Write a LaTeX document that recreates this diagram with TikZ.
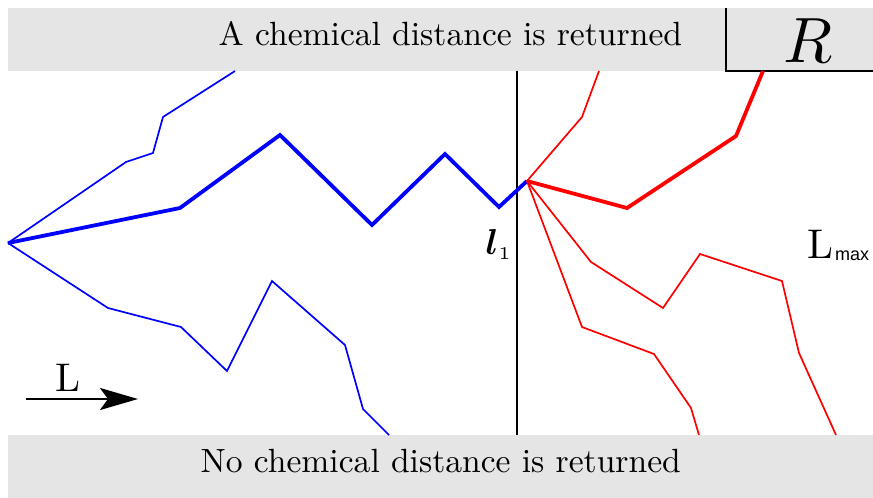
\documentclass[tikz,border=0pt]{standalone}
\usepackage{fontspec}
\usepackage{amsmath}
\usepackage{bm}
\newfontfamily\arialfont{Liberation Sans}
\usetikzlibrary{arrows.meta}
\definecolor{bandgray}{HTML}{E5E5E5}
\begin{document}
\begin{tikzpicture}[x=1pt,y=-1pt,
  band/.style={fill=bandgray,draw=none},
  thinblue/.style={blue,line width=1.7pt},
  thickblue/.style={blue,line width=3.8pt},
  thinred/.style={red,line width=1.7pt},
  thickred/.style={red,line width=3.8pt},
  blackline/.style={black,line width=1.8pt},
  lbl/.style={inner sep=0pt,anchor=base west}]
\useasboundingbox (0,0) rectangle (873,498);
% bands
\fill[band] (8,8) rectangle (873,71);
\fill[band] (8,435) rectangle (873,498);
\node[lbl,scale=3.36] (toptext) at (218,45) {A chemical distance is returned};
\node[lbl,scale=3.36] (bottext) at (200,472) {No chemical distance is returned};
% R box
\draw[blackline] (726,8) -- (726,71) -- (873,71);
\node[inner sep=0pt,anchor=base,scale=6.4] (R) at (808,62) {$R$};
% threshold line
\coordinate (vtop) at (517,71);
\coordinate (vbot) at (517,435);
\draw[blackline] (vtop) -- (vbot);
\node[lbl,scale=3.6] (l1) at (485,254) {$\bm{l}_{\scriptscriptstyle 1}$};
\node[lbl,scale=4.15] (Lmax) at (807,258) {L};
\node[lbl] (maxtxt) at (835,260) {\arialfont\fontsize{18}{20}\selectfont max};
% hubs
\coordinate (src) at (8,243);
\coordinate (hub) at (527,181);
% blue paths
\draw[thinblue] (src) -- (126,162) -- (153,153) -- (163,117) -- (235,71);
\draw[thinblue] (src) -- (108,308) -- (181,327) -- (227,371) -- (272,281) -- (345,345) -- (363,409) -- (389,435);
\draw[thickblue] (src) -- (180,208) -- (280,135) -- (372,225) -- (445,154) -- (499,207) -- (hub);
% red paths
\draw[thinred] (hub) -- (582,117) -- (599,71);
\draw[thinred] (hub) -- (591,262) -- (663,308) -- (700,254) -- (782,281) -- (799,353) -- (836,435);
\draw[thinred] (hub) -- (582,327) -- (654,354) -- (691,408) -- (699,435);
\draw[thickred] (hub) -- (627,208) -- (736,136) -- (763,71);
% L arrow
\coordinate (arrS) at (26,399);
\coordinate (arrE) at (138,399);
\draw[black,line width=2.5pt,-{Stealth[length=38pt,width=22pt,inset=8pt]}] (arrS) -- (arrE);
\node[lbl,scale=4.0] (L) at (55,391) {L};
\end{tikzpicture}
\end{document}
